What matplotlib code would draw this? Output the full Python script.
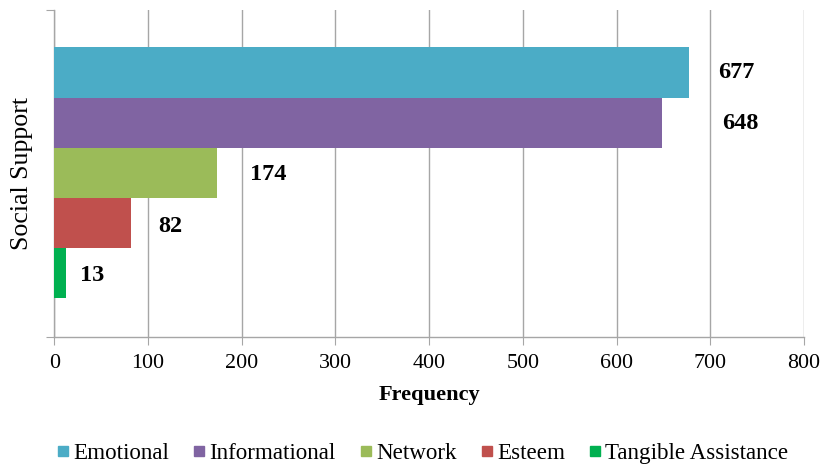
import matplotlib
matplotlib.use("Agg")
import matplotlib.pyplot as plt
from matplotlib.lines import Line2D
import numpy as np

series = ["Emotional", "Informational", "Network", "Esteem", "Tangible Assistance"]
values = [677, 648, 174, 82, 13]
colors = ["#4BACC6", "#8064A2", "#9BBB59", "#C0504D", "#00B050"]
xticks = [0, 100, 200, 300, 400, 500, 600, 700, 800]
category = "Social Support"
# label offsets in pixels (x, y)
label_dx = [29, 61, 33, 27, 14]
label_dy = [0, -1, -2, -3, -2]

plt.rcParams['font.family'] = ['Liberation Serif', 'DejaVu Serif']

fig = plt.figure(figsize=(8.22, 4.68), dpi=100)
ax = fig.add_axes([54.3/822, 1-337/468, (804-54.3)/822, (337-10)/468])

n = len(values)
h = 0.1535
ys = [(n - 1) / 2 * h - i * h for i in range(n)]
ys = [y + 0.002 for y in ys]
for i in range(n):
    ax.barh(ys[i], values[i], height=h, color=colors[i], label=series[i], zorder=3)
    ax.annotate(str(values[i]), xy=(values[i], ys[i]), xytext=(label_dx[i], label_dy[i]),
                textcoords='offset pixels', ha='left', va='center',
                fontsize=17.5, fontweight='bold', color='black', zorder=4)

ax.set_xlim(0, 800)
ax.set_ylim(-0.5, 0.5)
ax.set_xticks(xticks)
ax.set_xticklabels([str(t) for t in xticks], fontsize=15.8)
ax.set_yticks([-0.5, 0.5])
ax.set_yticklabels([])
ax.tick_params(axis='x', direction='out', length=6, color='#a6a6a6', pad=6)
ax.tick_params(axis='y', direction='out', length=6, color='#a6a6a6')
ax.grid(axis='x', color='#a6a6a6', linewidth=1.0, zorder=0)
for s in ['top', 'right']:
    ax.spines[s].set_visible(False)
for s in ['left', 'bottom']:
    ax.spines[s].set_color('#a6a6a6')
    ax.spines[s].set_linewidth(1.0)
ax.set_xlabel("Frequency", fontsize=16.1, fontweight='bold', labelpad=9)
ax.set_ylabel(category, fontsize=18.6, labelpad=6)

handles = [Line2D([0], [0], marker='s', linestyle='none', markersize=7.5,
                  markerfacecolor=c, markeredgecolor=c) for c in colors]
fig.legend(handles, series, loc='center', bbox_to_anchor=(421/822, 1-453/468),
           ncol=5, frameon=False, fontsize=16.6, handletextpad=0.05,
           columnspacing=0.9, handlelength=0.8)

fig.savefig("out.png", dpi=100)
